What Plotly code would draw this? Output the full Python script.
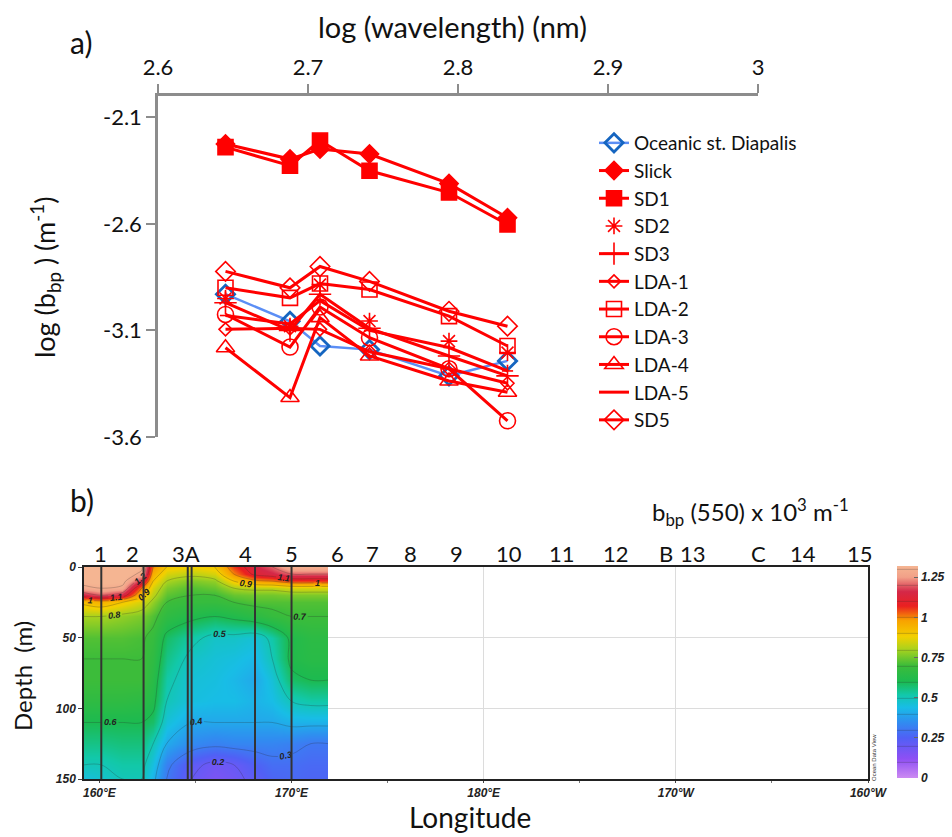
import plotly.graph_objects as go

# ---------------- Panel a) data ----------------
log_wavelength = [2.645, 2.688, 2.708, 2.741, 2.794, 2.833]
series_names = ["Oceanic st. Diapalis", "Slick", "SD1", "SD2", "SD3",
                "LDA-1", "LDA-2", "LDA-3", "LDA-4", "LDA-5", "SD5"]
oceanic = [-2.93, -3.057, -3.173, -3.19, -3.313, -3.243]
slick = [-2.225, -2.296, -2.249, -2.272, -2.411, -2.571]
sd1 = [-2.24, -2.327, -2.209, -2.351, -2.453, -2.603]
sd2 = [-2.95, -3.08, -2.885, -3.056, -3.15, -3.204]
sd3 = [-2.97, -3.10, -2.93, -3.09, -3.22, -3.313]
lda1 = [-3.095, -3.09, -3.095, -3.20, -3.28, -3.348]
lda2 = [-2.90, -2.947, -2.88, -2.908, -3.033, -3.173]
lda3 = [-3.025, -3.178, -2.99, -3.134, -3.28, -3.524]
lda4 = [-3.181, -3.415, -3.04, -3.22, -3.337, -3.39]
lda5 = [-3.03, -3.07, -2.96, -3.10, -3.18, -3.29]
sd5 = [-2.823, -2.90, -2.80, -2.87, -3.01, -3.08]
x_ticks_a = [2.6, 2.7, 2.8, 2.9, 3.0]
x_ticklabels_a = ["2.6", "2.7", "2.8", "2.9", "3"]
y_ticks_a = [-2.1, -2.6, -3.1, -3.6]
y_ticklabels_a = ["-2.1", "-2.6", "-3.1", "-3.6"]

# ---------------- Panel b) data ----------------
lon = [159.2, 160.1, 161.2, 162.2, 162.8, 163.5, 164.8, 166.0, 167.0, 168.1, 169.0, 170.0, 171.0, 171.9]
depth = [0, 5, 10, 15, 20, 25, 35, 50, 65, 80, 95, 110, 125, 140, 150]
bbp = [
    [1.35, 1.35, 1.35, 1.32, 1.00, 0.90, 0.88, 0.90, 1.05, 1.15, 1.20, 1.30, 1.30, 1.30],
    [1.35, 1.35, 1.35, 1.28, 0.95, 0.85, 0.82, 0.85, 1.00, 1.12, 1.15, 1.20, 1.20, 1.20],
    [1.33, 1.33, 1.33, 1.15, 0.90, 0.80, 0.76, 0.78, 0.90, 0.98, 1.00, 1.05, 1.05, 1.05],
    [1.28, 1.30, 1.28, 1.00, 0.85, 0.76, 0.72, 0.74, 0.80, 0.82, 0.82, 0.85, 0.85, 0.85],
    [1.15, 1.20, 1.15, 0.92, 0.82, 0.73, 0.70, 0.70, 0.74, 0.75, 0.75, 0.76, 0.76, 0.76],
    [0.92, 0.95, 0.90, 0.85, 0.78, 0.70, 0.68, 0.68, 0.70, 0.72, 0.72, 0.72, 0.72, 0.72],
    [0.80, 0.80, 0.78, 0.76, 0.72, 0.66, 0.62, 0.60, 0.62, 0.65, 0.68, 0.70, 0.70, 0.70],
    [0.72, 0.72, 0.72, 0.71, 0.68, 0.58, 0.52, 0.48, 0.48, 0.46, 0.52, 0.62, 0.65, 0.65],
    [0.70, 0.70, 0.70, 0.70, 0.66, 0.55, 0.48, 0.46, 0.45, 0.43, 0.50, 0.62, 0.64, 0.64],
    [0.70, 0.70, 0.70, 0.70, 0.64, 0.52, 0.46, 0.45, 0.43, 0.40, 0.46, 0.58, 0.60, 0.60],
    [0.66, 0.66, 0.66, 0.65, 0.62, 0.50, 0.45, 0.44, 0.44, 0.42, 0.44, 0.50, 0.52, 0.52],
    [0.60, 0.60, 0.60, 0.60, 0.58, 0.46, 0.40, 0.40, 0.40, 0.40, 0.40, 0.42, 0.42, 0.42],
    [0.55, 0.55, 0.56, 0.56, 0.50, 0.40, 0.34, 0.32, 0.33, 0.33, 0.33, 0.32, 0.30, 0.30],
    [0.50, 0.50, 0.52, 0.52, 0.45, 0.32, 0.22, 0.18, 0.20, 0.25, 0.28, 0.28, 0.27, 0.27],
    [0.45, 0.47, 0.50, 0.50, 0.42, 0.30, 0.20, 0.16, 0.18, 0.22, 0.26, 0.27, 0.26, 0.26],
]
station_lines = [160.1, 162.3, 164.6, 164.8, 168.1, 170.0]
station_labels = ["1", "2", "3A", "4", "5", "6", "7", "8", "9", "10", "11", "12", "B", "13", "C", "14", "15"]
station_label_lon = [160.05, 161.7, 164.5, 167.6, 170.0, 172.4, 174.2, 176.2, 178.6, 181.3, 184.1, 186.9, 189.5, 190.9, 194.3, 196.6, 199.6]
lon_ticks = [160, 170, 180, 190, 200]
lon_ticklabels = ["160°E", "170°E", "180°E", "170°W", "160°W"]
depth_ticks = [0, 50, 100, 150]
cbar_ticks = [0, 0.25, 0.5, 0.75, 1, 1.25]
cbar_ticklabels = ["0", "0.25", "0.5", "0.75", "1", "1.25"]

W, H = 952, 837
FONT = "Lato"
RED = "#ff0000"

def px_x(p):
    return p / W

def px_y(p):
    return 1 - p / H

fig = go.Figure()

values = [oceanic, slick, sd1, sd2, sd3, lda1, lda2, lda3, lda4, lda5, sd5]
symbols = ["diamond-open", "diamond", "square", "asterisk-open", "cross-thin-open",
           "diamond-open", "square-open", "circle-open", "triangle-up-open", "line-ew-open", "diamond-open"]
sizes = [14, 14, 15, 14, 16, 10, 15, 16, 16, 8, 15]
modes = ["lines+markers"] * 11
modes[3] = "markers"

for name, vals, sym, sz, md in zip(series_names, values, symbols, sizes, modes):
    if name.startswith("Oceanic"):
        line = dict(color="#5b8ef5", width=2.5)
        marker = dict(symbol=sym, size=sz, color="#1565c0", line=dict(width=2.8, color="#1565c0"))
    else:
        line = dict(color=RED, width=3)
        marker = dict(symbol=sym, size=sz, color=RED, line=dict(width=1.6, color=RED))
    fig.add_trace(go.Scatter(x=log_wavelength, y=vals, mode=md, name=name,
                             line=line, marker=marker, xaxis="x", yaxis="y"))

# Colorscale (Ocean Data View style)
zmin, zmax = 0.0, 1.32
cs_vals = [
    (0.00, "#cc8af2"), (0.12, "#8e4ff4"), (0.25, "#5060f5"), (0.35, "#2f8ef0"),
    (0.44, "#18bde6"), (0.52, "#12c8a8"), (0.60, "#1cba50"), (0.70, "#3cbc3a"),
    (0.80, "#a8d21e"), (0.88, "#f2d000"), (0.98, "#f8a200"), (1.07, "#ea2020"),
    (1.16, "#d42848"), (1.25, "#f2a088"), (1.32, "#f5b592"),
]
colorscale = [[v / zmax, c] for v, c in cs_vals]

fig.add_trace(go.Contour(
    x=lon, y=depth, z=bbp, xaxis="x2", yaxis="y2",
    colorscale=colorscale, zmin=zmin, zmax=zmax, showlegend=False,
    contours=dict(coloring="heatmap", start=0.1, end=1.3, size=0.1, showlabels=True,
                  labelfont=dict(size=9, color="#222", family="Liberation Sans", style="italic", weight="bold")),
    line=dict(color="rgba(40,40,40,0.35)", width=0.7, smoothing=1.0),
    colorbar=dict(x=px_x(897), xanchor="left", xpad=0, y=px_y(672), yanchor="middle", ypad=0,
                  len=212 / H, lenmode="fraction", thickness=21, outlinewidth=0,
                  tickvals=cbar_ticks, ticktext=cbar_ticklabels, ticks="inside", ticklen=4,
                  tickcolor="#666",
                  tickfont=dict(size=12, family="Liberation Sans", style="italic", weight="bold", color="#222")),
))

shapes = []
for s in station_lines:
    shapes.append(dict(type="line", xref="x2", yref="y2", x0=s, x1=s, y0=0, y1=150,
                       line=dict(color="#333333", width=2)))

annotations = [
    dict(text="a)", x=px_x(68), y=px_y(42), xref="paper", yref="paper", showarrow=False,
         xanchor="left", yanchor="middle", font=dict(size=30, family=FONT, color="#111")),
    dict(text="b)", x=px_x(68), y=px_y(500), xref="paper", yref="paper", showarrow=False,
         xanchor="left", yanchor="middle", font=dict(size=30, family=FONT, color="#111")),
    dict(text="log (wavelength) (nm)", x=px_x(452), y=px_y(27), xref="paper", yref="paper",
         showarrow=False, xanchor="center", yanchor="middle", font=dict(size=29, family=FONT, color="#111")),
    dict(text="log (b<sub>bp</sub> ) (m<sup>-1</sup>)", x=px_x(45), y=px_y(277), xref="paper", yref="paper",
         showarrow=False, textangle=-90, xanchor="center", yanchor="middle",
         font=dict(size=27, family=FONT, color="#111")),
    dict(text="b<sub>bp</sub> (550) x 10<sup>3</sup> m<sup>-1</sup>", x=px_x(750), y=px_y(512),
         xref="paper", yref="paper", showarrow=False, xanchor="center", yanchor="middle",
         font=dict(size=24, family=FONT, color="#111")),
    dict(text="Depth  (m)", x=px_x(22), y=px_y(676), xref="paper", yref="paper", showarrow=False,
         textangle=-90, xanchor="center", yanchor="middle", font=dict(size=24, family=FONT, color="#111")),
    dict(text="Longitude", x=px_x(470), y=px_y(817), xref="paper", yref="paper", showarrow=False,
         xanchor="center", yanchor="middle", borderpad=0, font=dict(size=28, family=FONT, color="#111")),
    dict(text="Ocean Data View", x=px_x(874), y=px_y(758), xref="paper", yref="paper", showarrow=False,
         textangle=-90, xanchor="center", yanchor="middle", font=dict(size=6, family="Liberation Sans", color="#333")),
]
for lab, lo in zip(station_labels, station_label_lon):
    annotations.append(dict(text=lab, x=lo, y=px_y(553), xref="x2", yref="paper", showarrow=False,
                            xanchor="center", yanchor="middle", font=dict(size=22, family=FONT, color="#111")))

fig.update_layout(
    width=W, height=H, margin=dict(l=0, r=0, t=0, b=0, autoexpand=False),
    paper_bgcolor="white", plot_bgcolor="white",
    font=dict(family=FONT, color="#111"),
    shapes=shapes, annotations=annotations,
    legend=dict(x=px_x(594), y=px_y(124), xanchor="left", yanchor="top",
                font=dict(size=19, family=FONT, color="#111"), bgcolor="rgba(0,0,0,0)",
                itemwidth=30, tracegroupgap=0),
    xaxis=dict(domain=[px_x(158), px_x(758)], range=[2.6, 3.0], anchor="y", side="top",
               tickvals=x_ticks_a, ticktext=x_ticklabels_a, showgrid=False, zeroline=False,
               showline=True, linecolor="#8c8c8c", linewidth=2.5, ticks="outside", ticklen=9,
               tickwidth=2, tickcolor="#8c8c8c", tickfont=dict(size=22, family=FONT, color="#111")),
    yaxis=dict(domain=[px_y(437), px_y(96)], range=[-3.6, -2.0], anchor="x",
               tickvals=y_ticks_a, ticktext=y_ticklabels_a, showgrid=False, zeroline=False,
               showline=True, linecolor="#8c8c8c", linewidth=2.5, ticks="outside", ticklen=9,
               tickwidth=2, tickcolor="#8c8c8c", tickfont=dict(size=22, family=FONT, color="#111")),
    xaxis2=dict(domain=[px_x(84), px_x(868)], range=[159.2, 200], anchor="y2",
                tickvals=lon_ticks, ticktext=lon_ticklabels, showgrid=True, gridcolor="#dcdcdc",
                zeroline=False, showline=True, mirror=True, linecolor="#222", linewidth=1.5,
                ticks="outside", ticklen=2, tickcolor="#444",
                minor=dict(dtick=5, tick0=160, ticks="outside", ticklen=2, tickcolor="#777", showgrid=False),
                tickfont=dict(size=12, family="Liberation Sans", style="italic", weight="bold", color="#222")),
    yaxis2=dict(domain=[px_y(779), px_y(567)], range=[150, 0], anchor="x2",
                tickvals=depth_ticks, showgrid=True, gridcolor="#dcdcdc", zeroline=False,
                showline=True, mirror=True, linecolor="#222", linewidth=1.5,
                ticks="outside", ticklen=4, tickcolor="#444",
                tickfont=dict(size=12, family="Liberation Sans", style="italic", weight="bold", color="#222")),
)

fig.write_html("out.html")
